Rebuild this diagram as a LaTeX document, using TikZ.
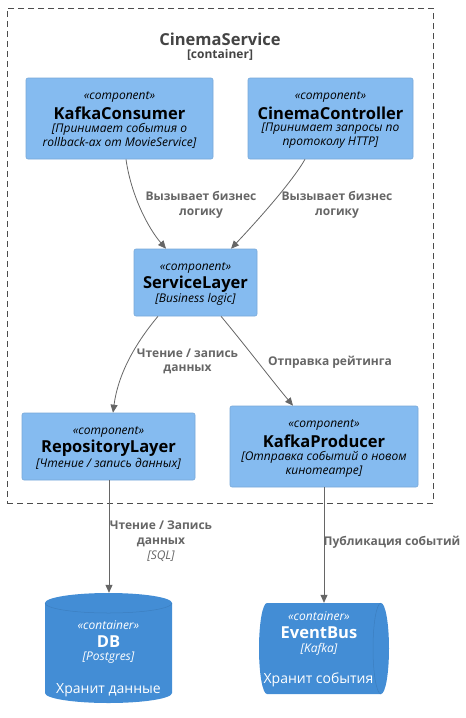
\documentclass[tikz,border=0pt]{standalone}
\usepackage{fontspec}
\setmainfont{Open Sans}
\usetikzlibrary{arrows.meta}
\definecolor{comp}{HTML}{85BBF0}
\definecolor{compline}{HTML}{78A8D8}
\definecolor{cont}{HTML}{438DD5}
\definecolor{contline}{HTML}{3C7FC0}
\definecolor{edge}{HTML}{666666}
\definecolor{ttl}{HTML}{444444}
\tikzset{
  compbox/.style={draw=compline, fill=comp, rounded corners=2pt, line width=0.6pt},
  stereo/.style={inner sep=0pt, font=\fontsize{12}{14}\selectfont\itshape},
  cname/.style={inner sep=0pt, font=\fontsize{16.5}{19}\selectfont\bfseries},
  cdesc/.style={inner sep=0pt, align=center, font=\fontsize{12}{14}\selectfont\itshape},
  elabel/.style={inner sep=0pt, align=center, text=edge, font=\fontsize{12}{14.5}\selectfont\bfseries},
  rel/.style={draw=edge, line width=0.8pt, -{Triangle[length=8pt,width=7pt]}},
  wtext/.style={inner sep=0pt, text=white},
}
\begin{document}
\begin{tikzpicture}[x=1pt,y=-1pt]
\useasboundingbox (0,0) rectangle (466,718);
% container boundary
\node[draw=black!70, dashed, dash pattern=on 6pt off 4pt, line width=0.6pt, minimum width=426pt, minimum height=495pt, inner sep=0pt] (boundary) at (220,255.5) {};
\node[inner sep=0pt, text=ttl, font=\fontsize{16.5}{19}\selectfont\bfseries] (btitle) at (220,39) {CinemaService};
\node[inner sep=0pt, text=ttl, font=\fontsize{12}{14}\selectfont\bfseries] (btype) at (220,55) {[container]};

% components
\node[compbox, minimum width=187pt, minimum height=81pt] (kc) at (119.5,118.5) {};
\node[stereo] (kcs) at (119.5,97) {«component»};
\node[cname] (kcn) at (119.5,113) {KafkaConsumer};
\node[cdesc] (kcd) at (119.5,136) {[Принимает события о\\rollback-ах от MovieService]};

\node[compbox, minimum width=165pt, minimum height=81pt] (cc) at (330.5,118.5) {};
\node[stereo] (ccs) at (330.5,97) {«component»};
\node[cname] (ccn) at (330.5,113) {CinemaController};
\node[cdesc] (ccd) at (330.5,136) {[Принимает запросы по\\протоколу HTTP]};

\node[compbox, minimum width=123pt, minimum height=67pt] (sl) at (195.5,282.5) {};
\node[stereo] (sls) at (195.5,268) {«component»};
\node[cname] (sln) at (195.5,284) {ServiceLayer};
\node[cdesc] (sld) at (195.5,299.5) {[Business logic]};

\node[compbox, minimum width=173pt, minimum height=67pt] (rl) at (108.5,446.5) {};
\node[stereo] (rls) at (108.5,432) {«component»};
\node[cname] (rln) at (108.5,448) {RepositoryLayer};
\node[cdesc] (rld) at (108.5,464) {[Чтение / запись данных]};

\node[compbox, minimum width=188pt, minimum height=81pt] (kp) at (324,446.5) {};
\node[stereo] (kps) at (324,425) {«component»};
\node[cname] (kpn) at (324,441) {KafkaProducer};
\node[cdesc] (kpd) at (324,464) {[Отправка событий о новом\\кинотеатре]};

% DB cylinder
\fill[cont] (45,603) -- (45,693) arc[start angle=180, end angle=360, x radius=63.5pt, y radius=10pt]
  -- (172,603) -- cycle;
\fill[cont] (108.5,603) ellipse[x radius=63.5pt, y radius=10pt];
\draw[contline, line width=0.5pt] (45,603) arc[start angle=-180, end angle=0, x radius=63.5pt, y radius=10pt];
\node[inner sep=0pt, minimum width=127pt, minimum height=110pt] (db) at (108.5,648) {};
\node[wtext, font=\fontsize{12}{14}\selectfont\itshape] (dbs) at (108.5,625) {«container»};
\node[wtext, font=\fontsize{16.5}{19}\selectfont\bfseries] (dbn) at (108.5,642) {DB};
\node[wtext, font=\fontsize{12}{14}\selectfont\itshape] (dbt) at (108.5,658) {[Postgres]};
\node[wtext, font=\fontsize{14}{16}\selectfont] (dbd) at (108.5,690) {Хранит данные};

% EventBus queue
\fill[cont] (267,603) -- (381,603) arc[start angle=90, end angle=-90, x radius=8pt, y radius=45.5pt]
  -- (267,694) arc[start angle=270, end angle=90, x radius=8pt, y radius=45.5pt] -- cycle;
\draw[contline, line width=0.5pt] (381,603) arc[start angle=90, end angle=270, x radius=8pt, y radius=45.5pt];
\node[inner sep=0pt, minimum width=130pt, minimum height=91pt] (eb) at (324,648.5) {};
\node[wtext, font=\fontsize{12}{14}\selectfont\itshape] (ebs) at (319,616) {«container»};
\node[wtext, font=\fontsize{16.5}{19}\selectfont\bfseries] (ebn) at (319,633) {EventBus};
\node[wtext, font=\fontsize{12}{14}\selectfont\itshape] (ebt) at (319,649) {[Kafka]};
\node[wtext, font=\fontsize{14}{16}\selectfont] (ebd) at (318.5,680) {Хранит события};

% relations
\draw[rel] (kc.south -| 126,0) .. controls (131,195) and (148,228) .. (sl.north -| 166,0);
\node[elabel] (l1) at (201,205) {Вызывает бизнес\\логику};
\draw[rel] (cc.south -| 305,0) .. controls (292,182) and (258,220) .. (sl.north -| 231,0);
\node[elabel] (l2) at (337,205) {Вызывает бизнес\\логику};
\draw[rel] (sl.south -| 158,0) .. controls (134,345) and (118,375) .. (rl.north -| 113,0);
\node[elabel] (l3) at (187.5,361.5) {Чтение / запись\\данных};
\draw[rel] (sl.south -| 221,0) .. controls (245,345) and (270,378) .. (kp.north -| 293,0);
\node[elabel] (l4) at (330,362) {Отправка рейтинга};
\draw[rel] (rl.south -| 109,0) -- (db.north -| 109,0);
\node[elabel] (l5) at (161,534) {Чтение / Запись\\данных};
\node[inner sep=0pt, text=edge, font=\fontsize{12}{14}\selectfont\itshape] (l5t) at (161,556) {[SQL]};
\draw[rel] (kp.south -| 324,0) -- (eb.north -| 324,0);
\node[elabel] (l6) at (392,542) {Публикация событий};
\end{tikzpicture}
\end{document}
